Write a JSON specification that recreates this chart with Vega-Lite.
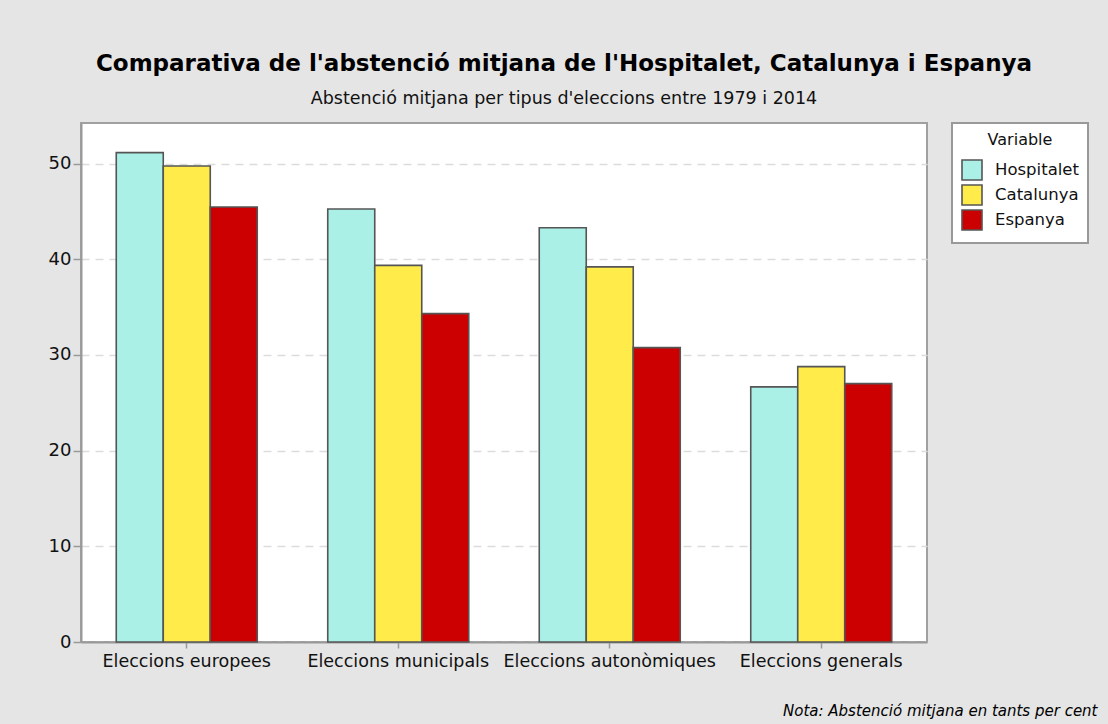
{
  "$schema": "https://vega.github.io/schema/vega-lite/v6.json",
  "autosize": "none",
  "width": 846,
  "height": 519,
  "padding": {"left": 81, "top": 123, "right": 181, "bottom": 82},
  "background": "#e5e5e5",
  "title": {
    "text": "Comparativa de l'abstenció mitjana de l'Hospitalet, Catalunya i Espanya",
    "subtitle": "Abstenció mitjana per tipus d'eleccions entre 1979 i 2014",
    "anchor": "middle",
    "frame": "group",
    "dx": 60,
    "font": "DejaVu Sans",
    "fontSize": 23,
    "fontWeight": "bold",
    "color": "#000000",
    "subtitleFont": "DejaVu Sans",
    "subtitleFontSize": 17.5,
    "subtitleColor": "#111111",
    "subtitlePadding": 14,
    "offset": 15
  },
  "data": {
    "values": [
      {"tipus": "Eleccions europees", "variable": "Hospitalet", "valor": 51.14},
      {"tipus": "Eleccions europees", "variable": "Catalunya", "valor": 49.75},
      {"tipus": "Eleccions europees", "variable": "Espanya", "valor": 45.46},
      {"tipus": "Eleccions municipals", "variable": "Hospitalet", "valor": 45.26},
      {"tipus": "Eleccions municipals", "variable": "Catalunya", "valor": 39.36},
      {"tipus": "Eleccions municipals", "variable": "Espanya", "valor": 34.32},
      {"tipus": "Eleccions autonòmiques", "variable": "Hospitalet", "valor": 43.3},
      {"tipus": "Eleccions autonòmiques", "variable": "Catalunya", "valor": 39.2},
      {"tipus": "Eleccions autonòmiques", "variable": "Espanya", "valor": 30.76},
      {"tipus": "Eleccions generals", "variable": "Hospitalet", "valor": 26.66},
      {"tipus": "Eleccions generals", "variable": "Catalunya", "valor": 28.78},
      {"tipus": "Eleccions generals", "variable": "Espanya", "valor": 27.0}
    ]
  },
  "mark": {"type": "bar", "stroke": "#555555", "strokeWidth": 1.6},
  "encoding": {
    "x": {
      "field": "tipus",
      "type": "nominal",
      "sort": ["Eleccions europees", "Eleccions municipals", "Eleccions autonòmiques", "Eleccions generals"],
      "scale": {"paddingInner": 0.3333, "paddingOuter": 0.1667},
      "axis": {
        "title": "Nota: Abstenció mitjana en tants per cent",
        "titleFont": "DejaVu Sans",
        "titleFontSize": 15,
        "titleFontStyle": "italic",
        "titleFontWeight": "normal",
        "titleColor": "#000000",
        "titleAlign": "right",
        "titleBaseline": "alphabetic",
        "titleX": 1016,
        "titleY": 73,
        "labelAngle": 0,
        "labelFont": "DejaVu Sans",
        "labelFontSize": 17.5,
        "labelColor": "#111111",
        "labelPadding": 4,
        "labelLimit": 400,
        "tickColor": "#999999",
        "tickSize": 6,
        "tickWidth": 1.5,
        "domainColor": "#999999",
        "domainWidth": 2
      }
    },
    "xOffset": {
      "field": "variable",
      "type": "nominal",
      "sort": ["Hospitalet", "Catalunya", "Espanya"],
      "scale": {"paddingInner": 0, "paddingOuter": 0}
    },
    "y": {
      "field": "valor",
      "type": "quantitative",
      "scale": {"domain": [0, 54.24], "nice": false, "zero": true},
      "axis": {
        "title": null,
        "values": [0, 10, 20, 30, 40, 50],
        "labelFont": "DejaVu Sans",
        "labelFontSize": 18,
        "labelColor": "#111111",
        "labelPadding": 2,
        "tickColor": "#999999",
        "tickSize": 8,
        "tickWidth": 1.5,
        "domainColor": "#999999",
        "domainWidth": 2,
        "grid": true,
        "gridColor": "#dcdcdc",
        "gridDash": [8, 6],
        "gridWidth": 1.5
      }
    },
    "fill": {
      "field": "variable",
      "type": "nominal",
      "sort": ["Hospitalet", "Catalunya", "Espanya"],
      "scale": {"domain": ["Hospitalet", "Catalunya", "Espanya"], "range": ["#aaf0e6", "#ffeb4a", "#cc0000"]},
      "legend": {
        "title": "Variable",
        "orient": "none",
        "legendX": 871,
        "legendY": 0,
        "fillColor": "#ffffff",
        "strokeColor": "#999999",
        "padding": 9,
        "titleFont": "DejaVu Sans",
        "titleFontSize": 16,
        "titleFontWeight": "normal",
        "titleColor": "#111111",
        "titleAnchor": "middle",
        "titlePadding": 11,
        "labelFont": "DejaVu Sans",
        "labelFontSize": 16.5,
        "labelColor": "#111111",
        "labelOffset": 12,
        "symbolType": "square",
        "symbolSize": 400,
        "symbolStrokeColor": "#555555",
        "symbolStrokeWidth": 1.6,
        "rowPadding": -3
      }
    }
  },
  "config": {
    "view": {"fill": "#ffffff", "stroke": "#a0a0a0", "strokeWidth": 2},
    "legend": {"strokeWidth": 2}
  }
}
